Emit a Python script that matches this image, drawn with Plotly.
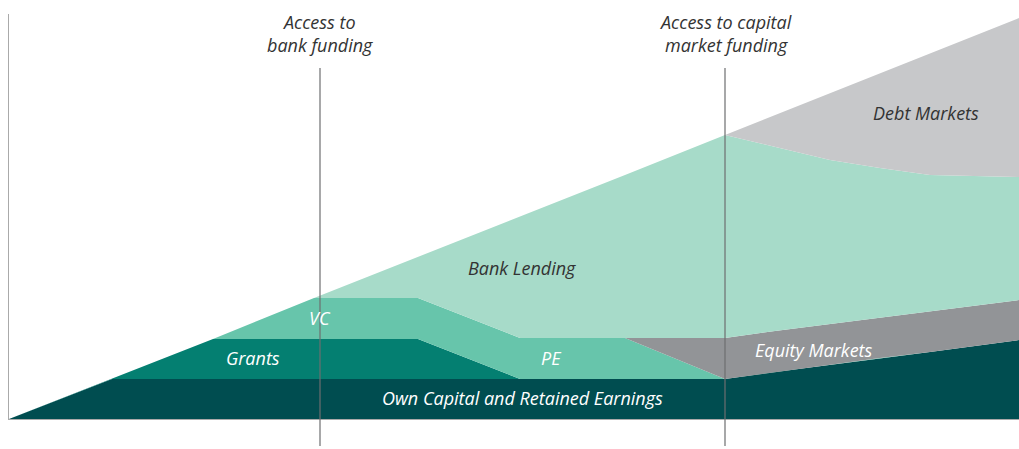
import plotly.graph_objects as go

# Stage position (horizontal) and layer thickness
stage_x = [0, 103, 204, 305, 409, 511, 616, 716, 766, 821, 871, 921, 1010]
own_capital = [0, 40, 40, 40, 40, 40, 40, 40, 47, 54, 61, 67, 79]
grants = [0, 0, 40, 40, 40, 0, 0, 0, 0, 0, 0, 0, 0]
vc = [0, 0, 0, 41, 41, 0, 0, 0, 0, 0, 0, 0, 0]
pe = [0, 0, 0, 0, 0, 41, 41, 0, 0, 0, 0, 0, 0]
equity_markets = [0, 0, 0, 0, 0, 0, 0, 41, 41, 41, 41, 41, 40]
bank_lending = [0, 0, 0, 0, 41, 122, 163, 203, 184, 164, 149, 136, 123]
debt_markets = [0, 0, 0, 0, 0, 0, 0, 0, 32, 67, 95, 122, 159]

# VC and PE share one colour, so they are drawn as one band
vc_pe = [a + b for a, b in zip(vc, pe)]

series_names = ["Own Capital and Retained Earnings", "Grants", "VC / PE",
                "Equity Markets", "Bank Lending", "Debt Markets"]
series_values = [own_capital, grants, vc_pe, equity_markets, bank_lending, debt_markets]
series_colors = ["#004d50", "#047f71", "#67c5ab", "#929497", "#a7dbc9", "#c7c8ca"]

stage_labels = ["STARTUP", "SME", "CORPORATE"]
stage_label_x = [172, 512, 869]
milestone_x = [311, 716]
milestone_labels = ["Access to<br>bank funding", "Access to capital<br>market funding"]

layer_labels = [
    ("Debt Markets", 917, 306, "#333333"),
    ("Bank Lending", 513, 151, "#333333"),
    ("VC", 311, 101, "white"),
    ("Grants", 244, 61, "white"),
    ("PE", 542, 61, "white"),
    ("Equity Markets", 805, 69, "white"),
    ("Own Capital and Retained Earnings", 513, 21, "white"),
]

FONT = "Open Sans"
FS = 18

fig = go.Figure()
for name, vals, col in zip(series_names, series_values, series_colors):
    fig.add_trace(go.Scatter(
        x=stage_x, y=vals, name=name, mode="lines", stackgroup="one",
        line=dict(width=0, color=col), fillcolor=col, hoverinfo="skip",
    ))

for mx in milestone_x:
    fig.add_shape(type="line", xref="x", yref="paper", x0=mx, x1=mx,
                  y0=-0.0667, y1=351 / 405, line=dict(color="#6d6e70", width=1.2))

for mx, lab in zip(milestone_x, milestone_labels):
    fig.add_annotation(x=mx, y=386, xref="x", yref="y", text=f"<i>{lab}</i>",
                       showarrow=False, font=dict(family=FONT, size=FS, color="#333333"),
                       align="center")

for lab, lx, ly, col in layer_labels:
    fig.add_annotation(x=lx, y=ly, xref="x", yref="y", text=f"<i>{lab}</i>",
                       showarrow=False, font=dict(family=FONT, size=FS, color=col))

for lab, lx in zip(stage_labels, stage_label_x):
    fig.add_annotation(x=lx, y=-21, xref="x", yref="y", text=lab, showarrow=False,
                       font=dict(family=FONT, size=FS, color="#333333"))

fig.update_layout(
    width=1019, height=449,
    margin=dict(l=9, r=0, t=14, b=30),
    paper_bgcolor="white", plot_bgcolor="white",
    showlegend=False,
    xaxis=dict(range=[0, 1010], showgrid=False, zeroline=False, showticklabels=False,
               showline=True, linecolor="#aaaaaa", linewidth=1, ticks=""),
    yaxis=dict(range=[0, 405], showgrid=False, zeroline=False, showticklabels=False,
               showline=True, linecolor="#aaaaaa", linewidth=1, ticks=""),
)

fig.write_html("out.html", config={"displayModeBar": False},
               post_script="document.body.style.margin='0';document.body.style.overflow='hidden';")
